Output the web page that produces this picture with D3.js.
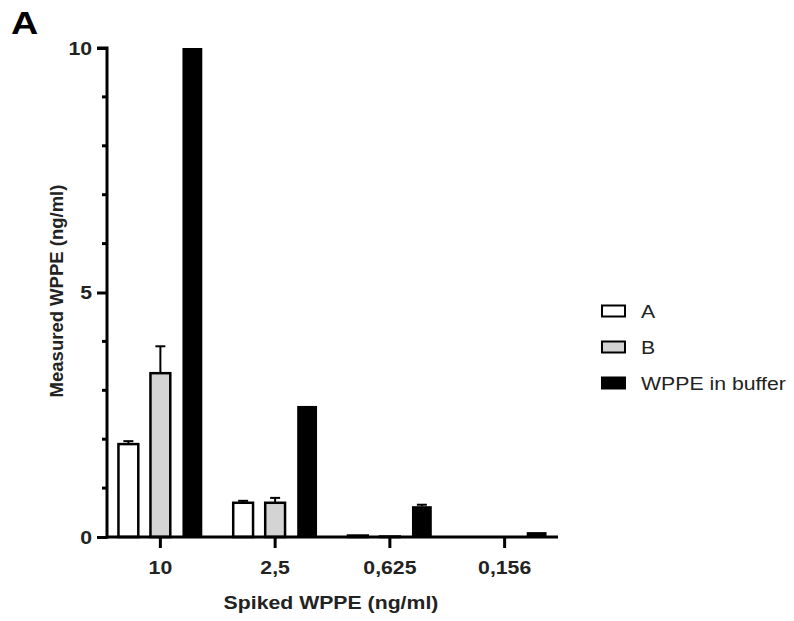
<!DOCTYPE html>
<html>
<head>
  <meta charset="utf-8">
  <style>
    body { margin: 0; padding: 0; background: white; font-family: "Liberation Sans", Arial, sans-serif; }
    .axis path, .axis line { stroke: black; stroke-width: 3; }
    .axis text { font-size: 18px; font-weight: bold; fill: #222; }
    .label { font-size: 18px; font-weight: bold; fill: #222; }
    .legend text { font-size: 18px; fill: #222; }
  </style>
</head>
<body>
  <div id="chart"></div>
  <script src="https://d3js.org/d3.v7.min.js"></script>
  <script>
    // data
    var categories = ["10", "2,5", "0,625", "0,156"]
    var series = ["A", "B", "WPPE in buffer"]
    var valuesA = [1.90, 0.70, 0.03, 0]
    var errA = [0.06, 0.04, 0, 0]
    var valuesB = [3.35, 0.70, 0.01, 0]
    var errB = [0.55, 0.10, 0, 0]
    var valuesBuffer = [10, 2.68, 0.63, 0.10]
    var errBuffer = [0, 0, 0.03, 0]
    var fills = ["white", "#d4d4d4", "black"]

    var width = 794, height = 621
    var stretch = 1.18 // the original figure is a bit wider than tall

    var svg = d3.select("#chart").append("svg")
      .attr("width", width)
      .attr("height", height)

    // flatten data into one row per bar
    var allValues = [valuesA, valuesB, valuesBuffer]
    var allErr = [errA, errB, errBuffer]
    var rows = []
    categories.forEach(function(c, i) {
      series.forEach(function(s, j) {
        rows.push({ cat: c, series: s, idx: j, value: allValues[j][i], err: allErr[j][i] })
      })
    })

    var x = d3.scaleBand().domain(categories).range([103, 562])
    var sub = d3.scaleBand().domain(series).range([-48, 48]).paddingInner(0.38).paddingOuter(0.19)
    var y = d3.scaleLinear().domain([0, 10]).range([537, 48])

    // bars
    svg.append("g").selectAll("rect")
      .data(rows)
      .enter().append("rect")
      .attr("x", function(d) { return x(d.cat) + x.bandwidth() / 2 + sub(d.series) })
      .attr("y", function(d) { return y(d.value) })
      .attr("width", sub.bandwidth())
      .attr("height", function(d) { return y(0) - y(d.value) })
      .attr("fill", function(d) { return fills[d.idx] })
      .attr("stroke", "black")
      .attr("stroke-width", function(d) { return d.idx == 2 ? 0 : 2.5 })

    // error bars (upper only)
    var eb = svg.append("g").selectAll("g")
      .data(rows.filter(function(d) { return d.err > 0 }))
      .enter().append("g")
      .attr("transform", function(d) { return "translate(" + (x(d.cat) + x.bandwidth() / 2 + sub(d.series) + sub.bandwidth() / 2) + ",0)" })
    eb.append("line")
      .attr("y1", function(d) { return y(d.value) })
      .attr("y2", function(d) { return y(d.value + d.err) })
      .attr("stroke", "black").attr("stroke-width", 2)
    eb.append("line")
      .attr("x1", -5).attr("x2", 5)
      .attr("y1", function(d) { return y(d.value + d.err) })
      .attr("y2", function(d) { return y(d.value + d.err) })
      .attr("stroke", "black").attr("stroke-width", 2)

    // y axis: major ticks at 0, 5, 10 and minor ticks every 1
    var yAxis = svg.append("g").attr("class", "axis")
      .attr("transform", "translate(107,0)")
      .call(d3.axisLeft(y).tickValues([0, 5, 10]).tickSize(10).tickSizeOuter(0).tickPadding(5))
    yAxis.selectAll("text").attr("dy", "0.36em").classed("wide", true)
    yAxis.select(".domain").attr("d", "M0," + (y(0) + 1.5) + "V" + y(10) + "H-10")
    svg.append("g").attr("class", "axis")
      .selectAll("line")
      .data(d3.range(1, 10).filter(function(v) { return v != 5 }))
      .enter().append("line")
      .attr("x1", 102).attr("x2", 107)
      .attr("y1", function(d) { return y(d) })
      .attr("y2", function(d) { return y(d) })

    // x axis
    var xAxis = svg.append("g").attr("class", "axis")
      .attr("transform", "translate(0," + y(0) + ")")
      .call(d3.axisBottom(x).tickSize(11).tickSizeOuter(0).tickPadding(6))
    xAxis.select(".domain").attr("d", "M106,0H558")
    xAxis.selectAll("text").attr("dy", "1.1em").classed("wide", true)

    // axis titles
    svg.append("text").attr("class", "label wide")
      .attr("x", 331).attr("y", 609)
      .attr("text-anchor", "middle")
      .text("Spiked WPPE (ng/ml)")
    svg.append("text").attr("class", "label")
      .attr("transform", "translate(63,291) rotate(-90)")
      .attr("text-anchor", "middle")
      .style("font-size", "18.5px")
      .text("Measured WPPE (ng/ml)")

    // panel letter
    svg.append("text").attr("class", "wide")
      .attr("x", 11).attr("y", 34)
      .style("font-size", "32px").style("font-weight", "bold")
      .text("A")

    // legend
    var legend = svg.append("g").attr("class", "legend")
      .selectAll("g")
      .data(series)
      .enter().append("g")
      .attr("transform", function(d, i) { return "translate(602," + (311 + i * 36) + ")" })
    legend.append("rect")
      .attr("y", -5.5)
      .attr("width", 23).attr("height", 11)
      .attr("fill", function(d, i) { return fills[i] })
      .attr("stroke", "black").attr("stroke-width", 2)
    legend.append("text")
      .attr("class", "wide")
      .attr("x", 39).attr("y", 7)
      .text(function(d) { return d })

    // widen horizontal texts to match the figure's aspect
    svg.selectAll("text.wide").each(function() {
      var len = this.getComputedTextLength()
      d3.select(this).attr("textLength", len * stretch).attr("lengthAdjust", "spacingAndGlyphs")
    })
  </script>
</body>
</html>
